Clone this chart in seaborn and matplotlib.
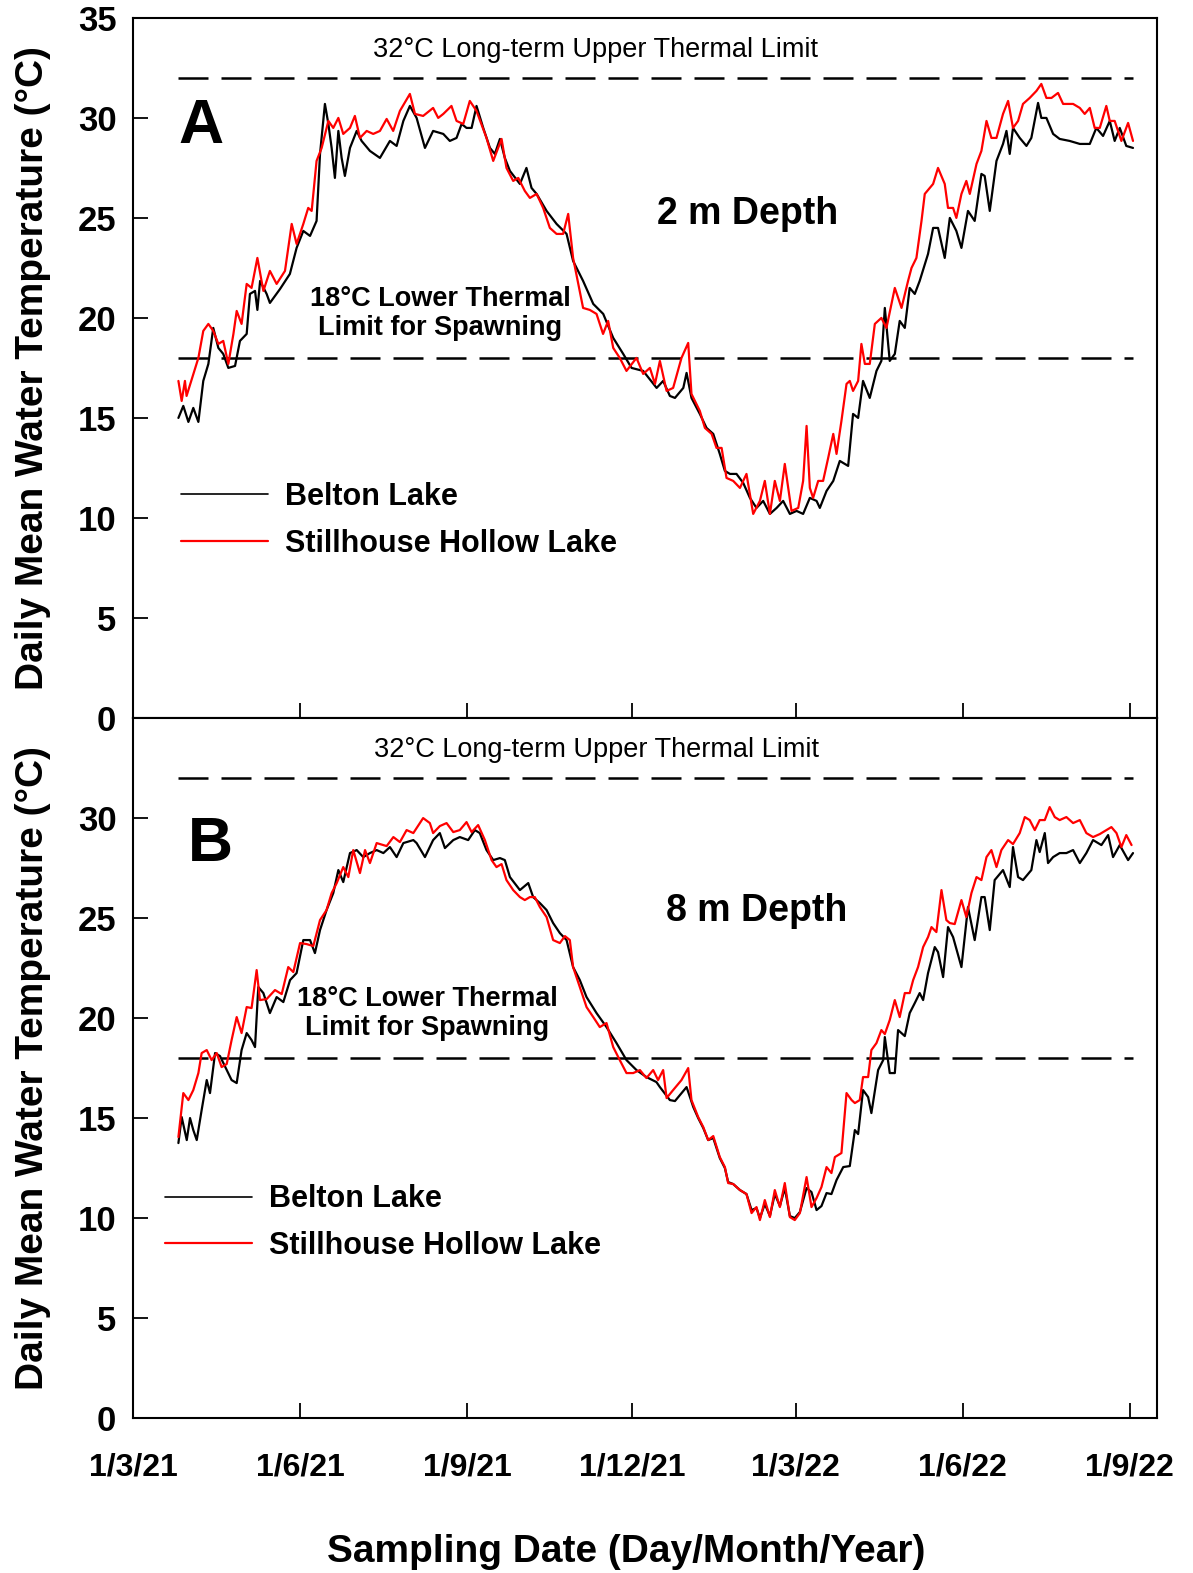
import numpy as np
import pandas as pd
import matplotlib
matplotlib.use('Agg')
import matplotlib.pyplot as plt
import seaborn as sns
from matplotlib.lines import Line2D

sns.set_theme(style='white')
plt.rcParams['font.family'] = ['Liberation Sans', 'DejaVu Sans']
plt.rcParams['text.color'] = 'black'
plt.rcParams['axes.labelcolor'] = 'black'
plt.rcParams['xtick.color'] = 'black'
plt.rcParams['ytick.color'] = 'black'

# ---------------- data (days since 1 March 2021, daily mean temperature °C) ----------------
start = pd.Timestamp('2021-03-01')

a_belton_day = [25.0, 27.7, 30.5, 33.2, 36.0, 38.7, 41.5, 44.2, 47.0, 49.7, 52.5, 56.2, 58.9, 62.6, 64.4, 67.2, 68.5, 70.0,
                73.6, 75.4, 81.0, 86.4, 90.1, 93.8, 97.5, 101.1, 103.0, 105.7, 107.6, 109.4, 111.2, 113.1, 114.9, 116.7,
                119.5, 123.2, 125.9, 130.5, 136.0, 141.5, 145.2, 148.9, 152.5, 156.2, 160.8, 165.3, 170.9, 174.5, 178.2,
                181.0, 183.7, 186.5, 189.2, 192.9, 196.6, 199.3, 202.1, 204.8, 207.6, 213.1, 216.7, 219.5, 222.3, 227.8,
                233.3, 238.8, 242.4, 247.9, 253.5, 259.0, 264.5, 270.0, 274.6, 281.0, 288.4, 292.0, 295.7, 298.5, 303.1,
                304.9, 307.6, 312.2, 315.9, 319.6, 323.2, 326.0, 328.8, 332.4, 336.1, 339.8, 343.4, 347.1, 350.8, 354.5,
                358.1, 361.8, 365.5, 369.1, 372.8, 376.5, 378.3, 382.0, 385.7, 389.3, 393.9, 396.6, 399.4, 402.1, 405.8,
                409.5, 412.2, 414.1, 416.8, 419.6, 422.3, 425.1, 427.8, 430.6, 433.3, 437.9, 440.7, 443.4, 447.1, 449.9,
                453.5, 456.3, 459.9, 463.6, 467.3, 469.1, 471.9, 475.6, 479.2, 481.1, 482.9, 484.7, 488.4, 492.1, 494.8,
                498.5, 500.3, 503.1, 506.8, 510.4, 515.9, 521.5, 527.0, 530.6, 534.3, 538.0, 540.7, 543.5, 547.1, 550.8]
a_belton_temp = [15.0, 15.6, 14.8, 15.5, 14.8, 16.85, 17.7, 19.5, 18.5, 18.2, 17.5, 17.6, 18.85, 19.2, 21.2, 21.35, 20.4, 21.85,
                 21.2, 20.75, 21.45, 22.2, 23.5, 24.35, 24.1, 24.85, 28.2, 30.7, 29.7, 28.5, 27.0, 29.35, 28.0, 27.1,
                 28.5, 29.35, 28.85, 28.35, 28.0, 28.85, 28.6, 29.85, 30.6, 30.0, 28.5, 29.35, 29.2, 28.85, 29.0,
                 29.7, 29.5, 29.5, 30.6, 29.5, 28.5, 28.2, 28.95, 28.0, 27.35, 26.7, 27.5, 26.5, 26.2, 25.35,
                 24.7, 24.2, 22.85, 21.85, 20.7, 20.2, 19.0, 18.2, 17.5, 17.35, 16.5, 16.85, 16.1, 16.0, 16.5,
                 17.25, 16.0, 15.2, 14.5, 14.2, 13.2, 12.35, 12.2, 12.2, 11.75, 11.0, 10.5, 10.85, 10.2, 10.5,
                 10.85, 10.2, 10.35, 10.2, 11.0, 10.85, 10.5, 11.35, 11.85, 12.85, 12.6, 15.2, 15.0, 16.85, 16.0,
                 17.35, 17.85, 20.5, 17.85, 18.2, 19.85, 19.5, 21.5, 21.2, 21.85, 23.2, 24.5, 24.5, 23.0, 25.0,
                 24.35, 23.5, 25.35, 24.85, 27.2, 27.1, 25.35, 27.85, 28.7, 29.35, 28.2, 29.5, 29.0, 28.6, 29.0,
                 30.75, 30.0, 30.0, 29.2, 28.95, 28.85, 28.7, 28.7, 29.5, 29.1, 29.85, 28.85, 29.5, 28.6, 28.5]

a_still_day = [25.0, 26.8, 28.6, 29.5, 36.0, 38.7, 41.5, 44.2, 47.0, 49.7, 52.5, 55.3, 57.1, 59.8, 62.6, 65.3, 68.5, 71.8,
               75.4, 79.1, 83.7, 87.4, 90.1, 93.8, 96.5, 98.4, 101.1, 103.9, 107.6, 110.3, 113.1, 115.8, 119.5, 122.2,
               125.0, 128.7, 132.3, 136.0, 139.7, 143.3, 147.0, 152.5, 155.3, 159.8, 165.3, 168.1, 170.9, 175.4, 178.2,
               181.9, 185.5, 189.2, 194.7, 198.4, 203.0, 205.7, 209.4, 212.2, 215.8, 218.6, 222.3, 225.9, 229.6, 233.3,
               236.9, 239.7, 242.4, 247.9, 251.6, 255.3, 258.9, 261.7, 264.5, 268.1, 271.8, 277.3, 281.0, 284.7, 287.5,
               290.2, 293.9, 297.5, 302.1, 305.8, 307.6, 312.2, 315.0, 318.7, 321.4, 324.2, 326.9, 330.6, 334.3, 337.9,
               341.6, 345.3, 348.0, 350.8, 353.5, 356.3, 359.0, 362.7, 366.4, 369.1, 371.0, 372.8, 374.6, 377.4, 380.1,
               382.9, 385.7, 387.5, 390.2, 393.0, 394.8, 396.6, 399.4, 401.2, 403.1, 405.8, 408.6, 412.2, 415.0, 419.6,
               423.3, 426.9, 428.8, 431.5, 434.3, 436.1, 438.9, 440.7, 443.4, 447.1, 448.9, 451.7, 453.5, 456.3, 459.0,
               460.9, 464.6, 467.3, 470.1, 472.8, 475.6, 479.2, 482.0, 484.7, 487.5, 490.2, 493.9, 497.6, 500.3, 503.1,
               505.9, 509.5, 512.3, 517.8, 521.5, 524.2, 527.0, 529.7, 532.5, 536.1, 538.0, 540.7, 544.4, 548.1, 550.8]
a_still_temp = [16.85, 15.85, 16.85, 16.1, 18.0, 19.35, 19.7, 19.35, 18.7, 18.85, 17.7, 19.2, 20.35, 19.7, 21.7, 21.5, 23.0, 21.35,
                22.35, 21.7, 22.35, 24.7, 23.7, 24.7, 25.5, 25.35, 27.85, 28.5, 29.85, 29.5, 30.0, 29.2, 29.5, 30.1,
                29.0, 29.35, 29.2, 29.35, 29.95, 29.35, 30.35, 31.2, 30.2, 30.1, 30.5, 30.0, 30.2, 30.6, 29.85,
                29.7, 30.85, 30.35, 29.0, 27.85, 28.95, 27.5, 26.85, 27.0, 26.35, 26.0, 26.2, 25.5, 24.5, 24.2,
                24.2, 25.2, 23.0, 20.5, 20.4, 20.2, 19.2, 19.85, 18.5, 18.0, 17.35, 18.0, 17.2, 17.5, 16.7,
                17.85, 16.35, 16.5, 18.0, 18.75, 16.2, 15.35, 14.5, 14.2, 13.5, 13.5, 12.0, 11.85, 11.5, 12.2,
                10.2, 10.85, 11.85, 10.2, 11.85, 10.85, 12.7, 10.35, 10.5, 11.85, 14.6, 11.5, 11.0, 11.85, 11.85,
                13.0, 14.2, 13.2, 14.85, 16.7, 16.85, 16.35, 16.85, 18.7, 17.7, 17.7, 19.7, 20.0, 19.5, 21.5,
                20.5, 21.85, 22.5, 23.0, 24.85, 26.2, 26.5, 26.7, 27.5, 26.7, 25.5, 25.5, 25.0, 26.2, 26.85,
                26.2, 27.7, 28.35, 29.85, 29.0, 29.0, 30.2, 30.85, 29.5, 29.85, 30.7, 31.0, 31.35, 31.7, 31.0,
                31.0, 31.25, 30.7, 30.7, 30.5, 30.2, 30.5, 29.5, 29.5, 30.6, 29.85, 29.85, 28.85, 29.75, 28.85]

b_belton_day = [25.0, 26.8, 29.6, 31.4, 33.2, 35.1, 37.8, 40.6, 42.4, 45.2, 47.9, 51.6, 54.3, 57.1, 59.8, 62.6, 65.3, 67.2,
                69.0, 71.8, 75.4, 79.1, 82.8, 86.5, 90.1, 93.8, 97.5, 100.2, 103.0, 106.6, 110.3, 113.1, 115.8, 119.5,
                123.2, 126.8, 130.5, 134.2, 137.9, 141.5, 145.2, 148.9, 154.4, 156.2, 160.8, 165.3, 169.0, 171.8, 176.4,
                180.0, 184.6, 188.3, 191.0, 194.7, 198.4, 202.1, 204.8, 207.6, 213.1, 217.7, 220.4, 224.1, 227.8, 231.4,
                235.1, 238.8, 242.4, 246.1, 249.8, 255.3, 260.8, 266.3, 271.8, 277.3, 282.8, 288.3, 290.2, 295.7, 298.5,
                304.9, 308.6, 311.3, 314.1, 316.8, 319.6, 323.2, 326.0, 327.8, 330.6, 334.3, 337.9, 340.7, 343.4, 345.3,
                348.0, 350.8, 353.5, 356.3, 359.0, 361.8, 364.5, 367.3, 371.0, 373.7, 376.5, 379.2, 382.0, 384.7, 387.5,
                391.2, 394.8, 397.6, 399.4, 402.1, 404.9, 406.7, 410.4, 413.2, 414.1, 416.8, 419.6, 421.4, 425.1, 427.8,
                430.6, 433.3, 435.2, 437.9, 441.6, 443.4, 446.2, 448.9, 451.7, 456.3, 459.9, 463.6, 467.3, 469.1, 471.9,
                474.6, 479.2, 482.9, 484.7, 487.5, 490.2, 494.8, 497.6, 499.4, 502.2, 504.0, 506.8, 510.4, 514.1, 517.8,
                521.5, 525.1, 528.8, 533.4, 537.1, 539.8, 543.5, 548.1, 550.8]
b_belton_temp = [13.75, 15.05, 13.9, 15.0, 14.4, 13.9, 15.4, 16.9, 16.25, 18.25, 18.1, 17.4, 16.9, 16.75, 18.4, 19.25, 18.9, 18.55,
                 21.55, 21.25, 20.25, 21.05, 20.8, 21.9, 22.25, 23.9, 23.9, 23.25, 24.4, 25.4, 26.25, 27.4, 26.8, 28.25,
                 28.4, 28.05, 28.25, 28.4, 28.25, 28.55, 28.05, 28.75, 28.9, 28.75, 28.05, 28.9, 29.25, 28.5, 28.9,
                 29.05, 28.9, 29.4, 29.25, 28.4, 27.9, 28.0, 27.9, 27.05, 26.4, 26.75, 26.05, 25.75, 25.4, 24.75,
                 24.25, 23.9, 22.55, 21.9, 21.05, 20.25, 19.55, 18.75, 17.9, 17.4, 17.05, 16.8, 16.55, 15.9, 15.85,
                 16.55, 15.55, 15.0, 14.5, 13.9, 14.0, 13.0, 12.5, 11.8, 11.7, 11.4, 11.2, 10.4, 10.5, 10.0,
                 10.7, 10.1, 11.2, 10.6, 11.5, 10.1, 10.0, 10.3, 11.5, 11.3, 10.4, 10.6, 11.25, 11.2, 11.9,
                 12.55, 12.6, 14.4, 14.2, 16.4, 16.05, 15.25, 17.4, 17.9, 19.05, 17.25, 17.25, 19.4, 19.1, 20.25,
                 20.75, 21.25, 20.9, 22.25, 23.55, 23.3, 22.05, 24.55, 24.05, 22.55, 25.55, 23.9, 26.05, 26.05, 24.4,
                 26.9, 27.4, 26.55, 28.55, 27.05, 26.9, 27.4, 28.9, 28.3, 29.25, 27.75, 28.05, 28.25, 28.25, 28.4,
                 27.75, 28.25, 28.9, 28.65, 29.15, 28.05, 28.65, 27.9, 28.25]

b_still_day = [25.0, 27.7, 30.5, 33.2, 36.0, 37.8, 40.6, 43.3, 46.1, 48.8, 51.6, 54.3, 57.1, 59.8, 62.6, 65.3, 68.1, 69.9,
               73.6, 78.2, 81.9, 85.5, 88.3, 92.0, 95.6, 99.3, 103.0, 106.6, 109.4, 112.2, 115.8, 118.6, 121.3, 125.0,
               127.8, 130.5, 134.2, 139.7, 143.4, 147.0, 150.7, 154.4, 159.8, 163.5, 165.3, 169.0, 172.7, 176.4, 180.0,
               183.7, 186.5, 190.1, 193.8, 197.5, 200.2, 203.0, 205.7, 209.4, 213.1, 215.8, 218.6, 221.3, 224.1, 227.8,
               231.4, 235.1, 237.9, 240.6, 242.4, 246.1, 249.8, 253.5, 257.1, 260.8, 264.5, 268.1, 271.8, 275.5, 279.2,
               282.8, 286.5, 289.2, 292.0, 293.9, 297.5, 302.1, 305.8, 307.6, 311.3, 314.1, 316.8, 319.6, 323.2, 326.0,
               327.8, 330.6, 334.3, 337.9, 340.7, 343.4, 345.3, 348.0, 350.8, 353.5, 356.3, 359.0, 361.8, 364.5, 367.3,
               371.0, 373.7, 376.5, 379.2, 382.0, 384.7, 386.6, 390.2, 393.0, 395.8, 397.6, 400.3, 402.1, 404.9, 406.7,
               409.5, 412.2, 414.1, 416.8, 419.6, 422.3, 425.1, 427.8, 429.7, 432.4, 435.2, 437.9, 439.8, 442.5, 445.3,
               448.0, 449.9, 452.6, 456.3, 459.0, 461.8, 464.6, 467.3, 470.1, 472.8, 475.6, 478.3, 482.0, 484.7, 488.4,
               491.2, 493.9, 496.7, 499.4, 502.2, 504.9, 507.7, 510.4, 514.1, 517.8, 521.5, 525.1, 528.8, 532.5, 536.1,
               538.9, 541.7, 544.4, 547.1, 550.0]
b_still_temp = [14.05, 16.25, 15.9, 16.4, 17.25, 18.25, 18.4, 17.9, 18.25, 17.55, 17.7, 18.9, 20.05, 19.25, 20.55, 20.5, 22.4, 20.9,
                20.95, 21.4, 21.2, 22.55, 22.3, 23.75, 23.7, 23.6, 24.9, 25.4, 26.25, 26.75, 27.55, 27.05, 28.4, 27.25,
                28.4, 27.75, 28.75, 28.6, 29.05, 28.8, 29.4, 29.25, 30.0, 29.75, 29.25, 29.6, 29.75, 29.3, 29.4,
                29.8, 29.3, 29.65, 28.9, 27.9, 27.55, 27.7, 26.9, 26.4, 26.05, 25.9, 26.05, 26.05, 25.55, 25.05,
                23.9, 23.75, 24.1, 23.9, 22.55, 21.55, 20.55, 20.05, 19.55, 19.75, 18.55, 17.9, 17.25, 17.25, 17.4,
                17.0, 17.4, 16.9, 17.4, 16.0, 16.4, 16.9, 17.5, 15.9, 15.05, 14.55, 13.9, 14.1, 13.05, 12.55,
                11.75, 11.7, 11.4, 11.2, 10.25, 10.55, 9.9, 10.9, 10.05, 11.4, 10.55, 11.75, 10.05, 9.9, 10.25,
                12.05, 10.55, 11.0, 11.55, 12.55, 12.25, 13.05, 13.25, 16.25, 15.9, 15.75, 15.9, 17.05, 17.05, 18.4,
                18.75, 19.4, 19.2, 19.9, 20.9, 20.05, 21.25, 21.25, 21.9, 22.55, 23.55, 24.05, 24.55, 24.3, 26.4,
                24.9, 24.75, 24.7, 25.9, 25.05, 26.25, 27.05, 26.9, 28.05, 28.4, 27.55, 28.4, 28.9, 28.7, 29.25,
                30.05, 29.9, 29.4, 29.9, 29.9, 30.55, 30.05, 29.9, 30.05, 29.75, 29.9, 29.25, 29.05, 29.2, 29.4,
                29.55, 29.25, 28.55, 29.15, 28.65]

lakes = ['Belton Lake', 'Stillhouse Hollow Lake']
colors = {'Belton Lake': 'black', 'Stillhouse Hollow Lake': '#ff0000'}
upper_limit = 32
lower_limit = 18
limit_span_days = [25, 551]
depth_labels = ['2 m Depth', '8 m Depth']
tick_dates = ['2021-03-01', '2021-06-01', '2021-09-01', '2021-12-01', '2022-03-01', '2022-06-01', '2022-09-01']
tick_labels = ['1/3/21', '1/6/21', '1/9/21', '1/12/21', '1/3/22', '1/6/22', '1/9/22']


def frame(bel_d, bel_t, sti_d, sti_t):
    d1 = pd.DataFrame({'date': start + pd.to_timedelta(bel_d, unit='D'), 'temp': bel_t, 'lake': lakes[0]})
    d2 = pd.DataFrame({'date': start + pd.to_timedelta(sti_d, unit='D'), 'temp': sti_t, 'lake': lakes[1]})
    return pd.concat([d1, d2], ignore_index=True)


dfA = frame(a_belton_day, a_belton_temp, a_still_day, a_still_temp)
dfB = frame(b_belton_day, b_belton_temp, b_still_day, b_still_temp)

fig = plt.figure(figsize=(11.93, 15.73), dpi=100)
axA = fig.add_axes([0.1115, 0.5436, 0.8583, 0.4450])
axB = fig.add_axes([0.1115, 0.0985, 0.8583, 0.4450])

span = [start + pd.Timedelta(days=d) for d in limit_span_days]

ylabel = 'Daily Mean Water Temperature (\u00b0C)'

layout = {
    'A': dict(up=(0.452, 0.954), letter=(0.044, 0.845), depth=(0.6006, 0.72), low=(0.2998, 0.578), leg=(0.047, 0.282)),
    'B': dict(up=(0.453, 0.954), letter=(0.0537, 0.82), depth=(0.609, 0.725), low=(0.287, 0.578), leg=(0.031, 0.279)),
}

for ax, df, depth, letter in [(axA, dfA, depth_labels[0], 'A'), (axB, dfB, depth_labels[1], 'B')]:
    sns.lineplot(data=df, x='date', y='temp', hue='lake', hue_order=lakes, palette=colors,
                 estimator=None, sort=True, linewidth=1.6, legend=False, ax=ax)
    for lim in (upper_limit, lower_limit):
        ax.plot(span, [lim, lim], color='black', linewidth=1.8, dashes=(12, 5.2), zorder=1)
    ax.set_xlim(start, start + pd.Timedelta(days=564))
    ax.set_ylim(0, 35)
    ax.set_xticks(pd.to_datetime(tick_dates))
    ax.set_xticklabels(tick_labels, fontsize=23, fontweight='bold')
    ax.set_xlabel('')
    ax.set_ylabel(ylabel, fontsize=28, fontweight='bold')
    ax.yaxis.set_label_coords(-0.08, 0.5)
    for s in ax.spines.values():
        s.set_visible(True)
        s.set_linewidth(1.5)
        s.set_color('black')
    ax.tick_params(axis='both', which='major', direction='in', length=11, width=1.3, color='black',
                   bottom=True, left=True, top=False, right=False)
    ax.tick_params(axis='y', pad=12, labelsize=25)
    ax.tick_params(axis='x', pad=25)
    L = layout[letter]
    ax.text(*L['up'], '32\u00b0C Long-term Upper Thermal Limit', transform=ax.transAxes,
            ha='center', va='center', fontsize=19.5)
    ax.text(*L['letter'], letter, transform=ax.transAxes, ha='left', va='center',
            fontsize=45, fontweight='bold')
    ax.text(*L['depth'], depth, transform=ax.transAxes, ha='center', va='center',
            fontsize=27, fontweight='bold')
    ax.text(*L['low'], '18\u00b0C Lower Thermal\nLimit for Spawning', transform=ax.transAxes,
            ha='center', va='center', fontsize=19.5, fontweight='bold', linespacing=1.15)
    handles = [Line2D([], [], color='black', linewidth=1.2), Line2D([], [], color='#ff0000', linewidth=1.6)]
    ax.legend(handles, lakes, loc='center left', bbox_to_anchor=L['leg'], frameon=False, borderpad=0,
              borderaxespad=0, handlelength=2.85, handletextpad=0.56, labelspacing=0.55,
              prop={'size': 22, 'weight': 'bold'})

axA.set_yticks([0, 5, 10, 15, 20, 25, 30, 35])
axB.set_yticks([0, 5, 10, 15, 20, 25, 30])
for ax in (axA, axB):
    for lab in ax.get_yticklabels():
        lab.set_fontweight('bold')
axA.tick_params(axis='x', labelbottom=False)

axB.set_xlabel('Sampling Date (Day/Month/Year)', fontsize=28, fontweight='bold')
axB.xaxis.set_label_coords(0.482, -0.166)

fig.savefig('out.png', dpi=100)
